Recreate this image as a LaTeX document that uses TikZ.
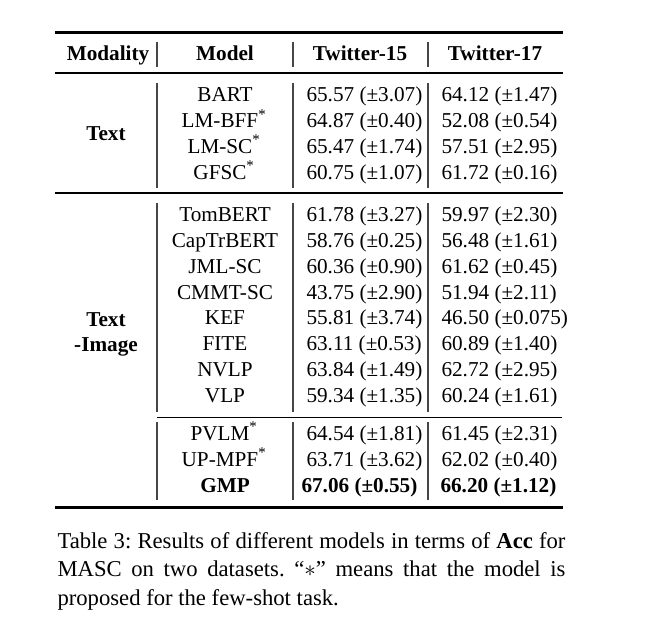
\documentclass[tikz,border=0pt]{standalone}
\usepackage{fontspec}
\setmainfont{Liberation Serif}
\newcommand\tabfont{\fontsize{15.9}{18}\selectfont}
\newcommand\capfont{\fontsize{17}{21.4}\selectfont\frenchspacing}
\tikzset{every picture/.style={line width=0.75pt}}
\tikzset{
  cell/.style={inner sep=0pt, font=\tabfont, anchor=base},
  num/.style={cell, anchor=base west},
  vrule/.style={color={rgb, 255:red, 70; green, 70; blue, 70}, line width=0.9},
}
\begin{document}
\begin{tikzpicture}[x=0.75pt,y=0.75pt,yscale=-1,xscale=1]
\useasboundingbox (0,0) rectangle (648,623);

%Straight Lines [id:toprule] 
\draw [line width=2.25]    (55,33) -- (563,33) ;
%Straight Lines [id:headrule] 
\draw [line width=1.5]    (55,73) -- (563,73) ;
%Straight Lines [id:midrule] 
\draw [line width=1.5]    (55,193) -- (563,193) ;
%Straight Lines [id:cmidrule] 
\draw [line width=0.75]    (157,417) -- (562,417) ;
%Straight Lines [id:bottomrule] 
\draw [line width=2.25]    (55,507) -- (563,507) ;

%Vertical Lines [id:header] 
\draw [vrule]    (157,42) -- (157,67) (293,42) -- (293,67) (428,42) -- (428,67) ;
%Vertical Lines [id:text] 
\draw [vrule]    (157,83) -- (157,188) (293,83) -- (293,188) (428,83) -- (428,188) ;
%Vertical Lines [id:textimage] 
\draw [vrule]    (157,203) -- (157,412) (293,203) -- (293,412) (428,203) -- (428,412) ;
%Vertical Lines [id:fewshot] 
\draw [vrule]    (157,422) -- (157,500) (293,422) -- (293,500) (428,422) -- (428,500) ;

%Header
\node [cell] (h-mod) at (108,60.5) {\bfseries Modality};
\node [cell] (h-model) at (225,60.5) {\bfseries Model};
\node [cell] (h-t15) at (360,60.5) {\bfseries Twitter-15};
\node [cell] (h-t17) at (495,60.5) {\bfseries Twitter-17};

%Text block
\node [cell] (mod-text) at (106,140.7) {\bfseries Text};
\node [cell] (m-bart) at (225,101.7) {BART};
\node [num] (a-bart) at (306,101.7) {65.57 (±3.07)};
\node [num] (b-bart) at (441,101.7) {64.12 (±1.47)};
\node [cell] (m-lmbff) at (224,127.5) {LM-BFF\textsuperscript{*}};
\node [num] (a-lmbff) at (306,127.5) {64.87 (±0.40)};
\node [num] (b-lmbff) at (441,127.5) {52.08 (±0.54)};
\node [cell] (m-lmsc) at (224,153.3) {LM-SC\textsuperscript{*}};
\node [num] (a-lmsc) at (306,153.3) {65.47 (±1.74)};
\node [num] (b-lmsc) at (441,153.3) {57.51 (±2.95)};
\node [cell] (m-gfsc) at (224,179.1) {GFSC\textsuperscript{*}};
\node [num] (a-gfsc) at (306,179.1) {60.75 (±1.07)};
\node [num] (b-gfsc) at (441,179.1) {61.72 (±0.16)};

%Text-Image block
\node [cell] (mod-ti1) at (106,326) {\bfseries Text};
\node [cell] (mod-ti2) at (106,351.7) {\bfseries -Image};
\node [cell] (m-tombert) at (225,221.7) {TomBERT};
\node [num] (a-tombert) at (306,221.7) {61.78 (±3.27)};
\node [num] (b-tombert) at (441,221.7) {59.97 (±2.30)};
\node [cell] (m-captr) at (225,247.5) {CapTrBERT};
\node [num] (a-captr) at (306,247.5) {58.76 (±0.25)};
\node [num] (b-captr) at (441,247.5) {56.48 (±1.61)};
\node [cell] (m-jml) at (225,273.3) {JML-SC};
\node [num] (a-jml) at (306,273.3) {60.36 (±0.90)};
\node [num] (b-jml) at (441,273.3) {61.62 (±0.45)};
\node [cell] (m-cmmt) at (225,299.1) {CMMT-SC};
\node [num] (a-cmmt) at (306,299.1) {43.75 (±2.90)};
\node [num] (b-cmmt) at (441,299.1) {51.94 (±2.11)};
\node [cell] (m-kef) at (225,324.9) {KEF};
\node [num] (a-kef) at (306,324.9) {55.81 (±3.74)};
\node [num] (b-kef) at (441,324.9) {46.50 (±0.075)};
\node [cell] (m-fite) at (225,350.7) {FITE};
\node [num] (a-fite) at (306,350.7) {63.11 (±0.53)};
\node [num] (b-fite) at (441,350.7) {60.89 (±1.40)};
\node [cell] (m-nvlp) at (225,376.5) {NVLP};
\node [num] (a-nvlp) at (306,376.5) {63.84 (±1.49)};
\node [num] (b-nvlp) at (441,376.5) {62.72 (±2.95)};
\node [cell] (m-vlp) at (225,402.3) {VLP};
\node [num] (a-vlp) at (306,402.3) {59.34 (±1.35)};
\node [num] (b-vlp) at (441,402.3) {60.24 (±1.61)};

%Few-shot block
\node [cell] (m-pvlm) at (224,440) {PVLM\textsuperscript{*}};
\node [num] (a-pvlm) at (306,440) {64.54 (±1.81)};
\node [num] (b-pvlm) at (441,440) {61.45 (±2.31)};
\node [cell] (m-upmpf) at (224,466) {UP-MPF\textsuperscript{*}};
\node [num] (a-upmpf) at (306,466) {63.71 (±3.62)};
\node [num] (b-upmpf) at (441,466) {62.02 (±0.40)};
\node [cell] (m-gmp) at (225,492) {\bfseries GMP};
\node [num] (a-gmp) at (301,492) {\bfseries 67.06 (±0.55)};
\node [num] (b-gmp) at (440,492) {\bfseries 66.20 (±1.12)};

%Caption
\node [inner sep=0pt, anchor=base west, text width=381pt, align=justify, font=\capfont] (caption) at (57,548) {Table 3: Results of different models in terms of \textbf{Acc} for\linebreak MASC on two datasets. ``$*$'' means that the model is\linebreak proposed for the few-shot task.};

\end{tikzpicture}
\end{document}
